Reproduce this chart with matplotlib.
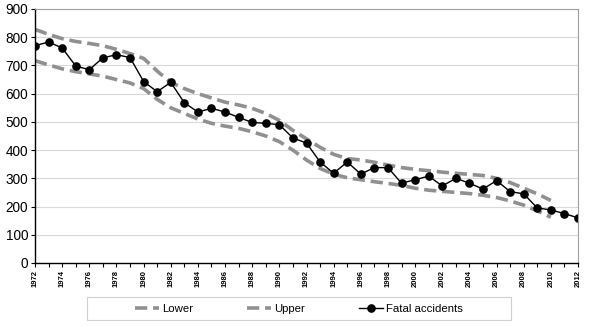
import matplotlib
matplotlib.use("Agg")
import matplotlib.pyplot as plt
from matplotlib.ticker import MultipleLocator
from matplotlib.patches import Rectangle

plt.rcParams['font.family'] = ['Liberation Sans', 'DejaVu Sans']

years = list(range(1972, 2013))
fatal = [770, 783, 762, 698, 685, 727, 738, 728, 643, 607,
         640, 568, 535, 548, 535, 516, 498, 495, 490, 443,
         425, 358, 318, 358, 315, 338, 338, 283, 295, 308,
         273, 300, 283, 262, 292, 253, 245, 195, 188, 175, 160]

band_years = list(range(1972, 2011))
upper = [828, 810, 795, 785, 778, 770, 757, 742, 725, 680,
         640, 618, 600, 585, 570, 560, 548, 530, 505, 470,
         440, 410, 385, 370, 365, 357, 347, 338, 332, 327,
         322, 318, 314, 310, 300, 285, 265, 245, 222]
lower = [717, 702, 688, 678, 670, 662, 650, 638, 618, 580,
         550, 530, 510, 495, 485, 477, 465, 450, 430, 400,
         365, 335, 315, 302, 295, 288, 282, 275, 265, 258,
         254, 250, 246, 240, 232, 220, 205, 185, 162]

W, H = 596, 327
fig = plt.figure(figsize=(W/100, H/100), dpi=100)
ax = fig.add_axes([35/W, 1-263/H, (578-35)/W, (263-9)/H])

dash = (0, (3.4, 1.6))
ax.plot(band_years, lower, color='#909090', lw=2.6, linestyle=dash, label='Lower')
ax.plot(band_years, upper, color='#909090', lw=2.6, linestyle=dash, label='Upper')
ax.plot(years, fatal, color='black', lw=1.0, marker='o', markersize=5.2, label='Fatal accidents')

ax.set_xlim(1972, 2012)
ax.set_ylim(0, 900)
ax.yaxis.set_major_locator(MultipleLocator(100))
ax.xaxis.set_major_locator(MultipleLocator(2))
ax.xaxis.set_minor_locator(MultipleLocator(1))
ax.grid(axis='y', color='#d9d9d9', lw=0.8)
ax.set_axisbelow(True)

for s in ['top', 'right']:
    ax.spines[s].set_color('#a0a0a0')
    ax.spines[s].set_linewidth(0.8)
for s in ['left', 'bottom']:
    ax.spines[s].set_color('black')
    ax.spines[s].set_linewidth(1.0)

ax.tick_params(axis='y', labelsize=9.8, length=3, width=0.8, pad=2)
ax.tick_params(axis='x', which='both', length=3, width=0.8)
ax.tick_params(axis='x', labelsize=5.5, labelrotation=90, pad=2)
for lbl in ax.get_xticklabels():
    lbl.set_fontweight('bold')

# legend frame
fig.patches.append(Rectangle((87/W, 1-320/H), (511-87)/W, (320-297)/H,
                             transform=fig.transFigure, fill=False,
                             edgecolor='#d0d0d0', lw=0.8))
leg = fig.legend(loc='center', bbox_to_anchor=(299/W, 1-308.5/H), ncol=3,
                 fontsize=8.2, frameon=False,
                 handlelength=2.1, columnspacing=4.8, handletextpad=0.25,
                 borderpad=0, borderaxespad=0)

fig.savefig('out.png', dpi=100)
